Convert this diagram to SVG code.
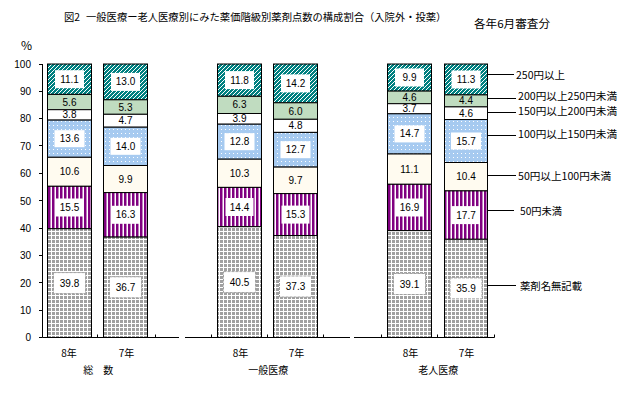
<svg xmlns="http://www.w3.org/2000/svg" width="639" height="404" viewBox="0 0 639 404">
<defs>
<pattern id="pTeal" width="4" height="4" patternUnits="userSpaceOnUse">
<rect width="4" height="4" fill="#008080"/>
<path d="M-1,1 L1,-1 M0,4 L4,0 M3,5 L5,3" stroke="#fff" stroke-width="1"/>
</pattern>
<pattern id="pDot" width="4" height="4" patternUnits="userSpaceOnUse">
<rect width="4" height="4" fill="#A6CAF0"/>
<rect x="1" y="1" width="1" height="1" fill="#fff"/>
</pattern>
<pattern id="pPur" width="4" height="4" patternUnits="userSpaceOnUse">
<rect width="4" height="4" fill="#800080"/>
<rect x="2.5" y="0" width="1.5" height="4" fill="#fff"/>
</pattern>
<pattern id="pGry" width="4" height="4" patternUnits="userSpaceOnUse">
<rect width="4" height="4" fill="#fff"/>
<rect x="0" y="0" width="3" height="3" fill="#A0A0A0"/>
</pattern>
</defs>
<style>
.seg{stroke:#000;stroke-width:1}
.teal{fill:url(#pTeal)}
.grn{fill:#C0DCC0}
.wht{fill:#fff}
.blu{fill:url(#pDot)}
.crm{fill:#FFFBF0}
.pur{fill:url(#pPur)}
.gry{fill:url(#pGry)}
.bx{fill:#fff}
.gbx{fill:#fff;stroke:#A0A0A0;stroke-width:1;stroke-dasharray:3 1}
.v{font-family:"Liberation Sans",Arial,sans-serif;font-size:10px;fill:#000;text-anchor:middle}
.ax{font-family:"Liberation Sans",Arial,sans-serif;font-size:10px;fill:#000;text-anchor:end}
.jp{font-family:"Noto Sans CJK JP",sans-serif;font-size:10.5px;fill:#000}
.jpc{font-family:"Noto Sans CJK JP",sans-serif;font-size:10px;fill:#000;text-anchor:middle}
.ln{stroke:#000;stroke-width:1;fill:none}
</style>
<rect width="639" height="404" fill="#fff"/>

<g id="title">
<text class="jp" y="21" style="font-size:10.3px"><tspan x="64">図2 </tspan><tspan x="86">一般医療ー老人医療別にみた薬価階級別薬剤点数の構成割合（入院外・投薬）</tspan></text>
<text class="jp" x="474" y="28" textLength="76" lengthAdjust="spacingAndGlyphs" style="font-size:11px">各年6月審査分</text>
</g>

<g id="axes">
<text class="jp" x="21" y="50" style="font-size:12px">%</text>
<path class="ln" d="M42.5,64 V337.5 M39,64.5 H42.5 M39,91.5 H42.5 M39,118.5 H42.5 M39,145.5 H42.5 M39,173.5 H42.5 M39,200.5 H42.5 M39,228.5 H42.5 M39,255.5 H42.5 M39,282.5 H42.5 M39,310.5 H42.5 M39,337.5 H42.5"/>
<path class="ln" d="M42.5,337.5 H179 M97.5,337.5 V334.5 M155.5,337.5 V334.5 M185,337.5 H350 M211.5,337.5 V334.5 M267.5,337.5 V334.5 M323.5,337.5 V334.5 M354,337.5 H494.5 M381.5,337.5 V334.5 M437.5,337.5 V334.5 M494.5,337.5 V334.5"/>
<text class="ax" x="31" y="68">100</text>
<text class="ax" x="31" y="95">90</text>
<text class="ax" x="31" y="122">80</text>
<text class="ax" x="31" y="150">70</text>
<text class="ax" x="31" y="177">60</text>
<text class="ax" x="31" y="205">50</text>
<text class="ax" x="31" y="232">40</text>
<text class="ax" x="31" y="259">30</text>
<text class="ax" x="31" y="287">20</text>
<text class="ax" x="31" y="314">10</text>
<text class="ax" x="31" y="341">0</text>
</g>

<g id="bar-souso-8">
<rect class="seg teal" x="47.5" y="64" width="44" height="30.4"/>
<rect class="seg grn" x="47.5" y="94.4" width="44" height="15.3"/>
<rect class="seg wht" x="47.5" y="109.7" width="44" height="10.4"/>
<rect class="seg blu" x="47.5" y="120.1" width="44" height="37.2"/>
<rect class="seg crm" x="47.5" y="157.3" width="44" height="29"/>
<rect class="seg pur" x="47.5" y="186.3" width="44" height="42.4"/>
<rect class="seg gry" x="47.5" y="228.7" width="44" height="108.8"/>
<rect class="bx" x="55" y="70.2" width="29" height="18"/>
<rect class="bx" x="54.5" y="130.2" width="30" height="17"/>
<rect class="bx" x="55.5" y="198.5" width="28" height="18"/>
<rect class="gbx" x="53.5" y="272.6" width="32" height="21"/>
<text class="v" x="69.5" y="82.7">11.1</text>
<text class="v" x="69.5" y="105.5">5.6</text>
<text class="v" x="69.5" y="118.4">3.8</text>
<text class="v" x="69.5" y="142.2">13.6</text>
<text class="v" x="69.5" y="175.3">10.6</text>
<text class="v" x="69.5" y="211">15.5</text>
<text class="v" x="69.5" y="286.6">39.8</text>
</g>

<g id="bar-souso-7">
<rect class="seg teal" x="103.5" y="64" width="44" height="35.8"/>
<rect class="seg grn" x="103.5" y="99.8" width="44" height="14.5"/>
<rect class="seg wht" x="103.5" y="114.3" width="44" height="12.9"/>
<rect class="seg blu" x="103.5" y="127.2" width="44" height="38.3"/>
<rect class="seg crm" x="103.5" y="165.5" width="44" height="27.1"/>
<rect class="seg pur" x="103.5" y="192.6" width="44" height="44.5"/>
<rect class="seg gry" x="103.5" y="237.1" width="44" height="100.4"/>
<rect class="bx" x="111" y="72.9" width="29" height="18"/>
<rect class="bx" x="110.5" y="137.8" width="30" height="17"/>
<rect class="bx" x="111.5" y="205.8" width="28" height="18"/>
<rect class="gbx" x="109.5" y="276.8" width="32" height="21"/>
<text class="v" x="125.5" y="85.4">13.0</text>
<text class="v" x="125.5" y="110.6">5.3</text>
<text class="v" x="125.5" y="124.3">4.7</text>
<text class="v" x="125.5" y="149.8">14.0</text>
<text class="v" x="125.5" y="182.5">9.9</text>
<text class="v" x="125.5" y="218.3">16.3</text>
<text class="v" x="125.5" y="290.8">36.7</text>
</g>

<g id="bar-ippan-8">
<rect class="seg teal" x="217.5" y="64" width="44" height="32.3"/>
<rect class="seg grn" x="217.5" y="96.3" width="44" height="17.2"/>
<rect class="seg wht" x="217.5" y="113.5" width="44" height="10.7"/>
<rect class="seg blu" x="217.5" y="124.2" width="44" height="35"/>
<rect class="seg crm" x="217.5" y="159.2" width="44" height="28.2"/>
<rect class="seg pur" x="217.5" y="187.4" width="44" height="39.3"/>
<rect class="seg gry" x="217.5" y="226.7" width="44" height="110.8"/>
<rect class="bx" x="225" y="71.1" width="29" height="18"/>
<rect class="bx" x="224.5" y="133.2" width="30" height="17"/>
<rect class="bx" x="225.5" y="198" width="28" height="18"/>
<rect class="gbx" x="223.5" y="271.6" width="32" height="21"/>
<text class="v" x="239.5" y="83.6">11.8</text>
<text class="v" x="239.5" y="108.4">6.3</text>
<text class="v" x="239.5" y="122.3">3.9</text>
<text class="v" x="239.5" y="145.2">12.8</text>
<text class="v" x="239.5" y="176.8">10.3</text>
<text class="v" x="239.5" y="210.5">14.4</text>
<text class="v" x="239.5" y="285.6">40.5</text>
</g>

<g id="bar-ippan-7">
<rect class="seg teal" x="273.5" y="64" width="44" height="38.8"/>
<rect class="seg grn" x="273.5" y="102.8" width="44" height="16.5"/>
<rect class="seg wht" x="273.5" y="119.3" width="44" height="13.1"/>
<rect class="seg blu" x="273.5" y="132.4" width="44" height="34.7"/>
<rect class="seg crm" x="273.5" y="167.1" width="44" height="26.5"/>
<rect class="seg pur" x="273.5" y="193.6" width="44" height="41.9"/>
<rect class="seg gry" x="273.5" y="235.5" width="44" height="102"/>
<rect class="bx" x="281" y="74.4" width="29" height="18"/>
<rect class="bx" x="280.5" y="141.2" width="30" height="17"/>
<rect class="bx" x="281.5" y="205.6" width="28" height="18"/>
<rect class="gbx" x="279.5" y="276" width="32" height="21"/>
<text class="v" x="295.5" y="86.9">14.2</text>
<text class="v" x="295.5" y="114.5">6.0</text>
<text class="v" x="295.5" y="129.3">4.8</text>
<text class="v" x="295.5" y="153.2">12.7</text>
<text class="v" x="295.5" y="183.9">9.7</text>
<text class="v" x="295.5" y="218.1">15.3</text>
<text class="v" x="295.5" y="290">37.3</text>
</g>

<g id="bar-roujin-8">
<rect class="seg teal" x="387.5" y="64" width="44" height="27.1"/>
<rect class="seg grn" x="387.5" y="91.1" width="44" height="12.6"/>
<rect class="seg wht" x="387.5" y="103.7" width="44" height="10.1"/>
<rect class="seg blu" x="387.5" y="113.8" width="44" height="40.2"/>
<rect class="seg crm" x="387.5" y="154" width="44" height="30.3"/>
<rect class="seg pur" x="387.5" y="184.3" width="44" height="46.3"/>
<rect class="seg gry" x="387.5" y="230.6" width="44" height="106.9"/>
<rect class="bx" x="395" y="68.5" width="29" height="18"/>
<rect class="bx" x="394.5" y="125.4" width="30" height="17"/>
<rect class="bx" x="395.5" y="198.5" width="28" height="18"/>
<rect class="gbx" x="393.5" y="273.5" width="32" height="21"/>
<text class="v" x="409.5" y="81">9.9</text>
<text class="v" x="409.5" y="100.9">4.6</text>
<text class="v" x="409.5" y="112.2">3.7</text>
<text class="v" x="409.5" y="137.4">14.7</text>
<text class="v" x="409.5" y="172.7">11.1</text>
<text class="v" x="409.5" y="211">16.9</text>
<text class="v" x="409.5" y="287.5">39.1</text>
</g>

<g id="bar-roujin-7">
<rect class="seg teal" x="444.5" y="64" width="43" height="30.9"/>
<rect class="seg grn" x="444.5" y="94.9" width="43" height="12"/>
<rect class="seg wht" x="444.5" y="106.9" width="43" height="12.6"/>
<rect class="seg blu" x="444.5" y="119.5" width="43" height="43"/>
<rect class="seg crm" x="444.5" y="162.5" width="43" height="28.4"/>
<rect class="seg pur" x="444.5" y="190.9" width="43" height="48.4"/>
<rect class="seg gry" x="444.5" y="239.3" width="43" height="98.2"/>
<rect class="bx" x="451.5" y="70.5" width="29" height="18"/>
<rect class="bx" x="451" y="132.5" width="30" height="17"/>
<rect class="bx" x="452" y="206.1" width="28" height="18"/>
<rect class="gbx" x="450" y="277.9" width="32" height="21"/>
<text class="v" x="466" y="83">11.3</text>
<text class="v" x="466" y="104.4">4.4</text>
<text class="v" x="466" y="116.7">4.6</text>
<text class="v" x="466" y="144.5">15.7</text>
<text class="v" x="466" y="180.2">10.4</text>
<text class="v" x="466" y="218.6">17.7</text>
<text class="v" x="466" y="291.9">35.9</text>
</g>

<g id="connectors">
<path class="ln" d="M488,74.5 H514 M488,98.5 H516 M488,112.5 H516 M488,135.5 H516 M488,175.5 H516 M488,210.5 H514 M488,285.5 H516"/>
</g>

<g id="legend">
<text class="jp" x="516" y="79" textLength="49" lengthAdjust="spacingAndGlyphs">250円以上</text>
<text class="jp" x="518" y="100" textLength="99" lengthAdjust="spacingAndGlyphs">200円以上250円未満</text>
<text class="jp" x="518" y="115" textLength="99" lengthAdjust="spacingAndGlyphs">150円以上200円未満</text>
<text class="jp" x="518" y="138" textLength="99" lengthAdjust="spacingAndGlyphs">100円以上150円未満</text>
<text class="jp" x="518" y="180" textLength="93" lengthAdjust="spacingAndGlyphs">50円以上100円未満</text>
<text class="jp" x="520" y="214.7" textLength="42" lengthAdjust="spacingAndGlyphs">50円未満</text>
<text class="jp" x="520" y="290" textLength="62" lengthAdjust="spacingAndGlyphs">薬剤名無記載</text>
</g>

<g id="xlabels">
<text class="jpc" x="69" y="357">8年</text>
<text class="jpc" x="126.5" y="357">7年</text>
<text class="jpc" x="240.5" y="357">8年</text>
<text class="jpc" x="296.5" y="357">7年</text>
<text class="jpc" x="410.5" y="357">8年</text>
<text class="jpc" x="466.5" y="357">7年</text>
<text class="jpc" x="98.3" y="374">総　数</text>
<text class="jpc" x="268.3" y="374">一般医療</text>
<text class="jpc" x="438.3" y="374">老人医療</text>
</g>
</svg>
